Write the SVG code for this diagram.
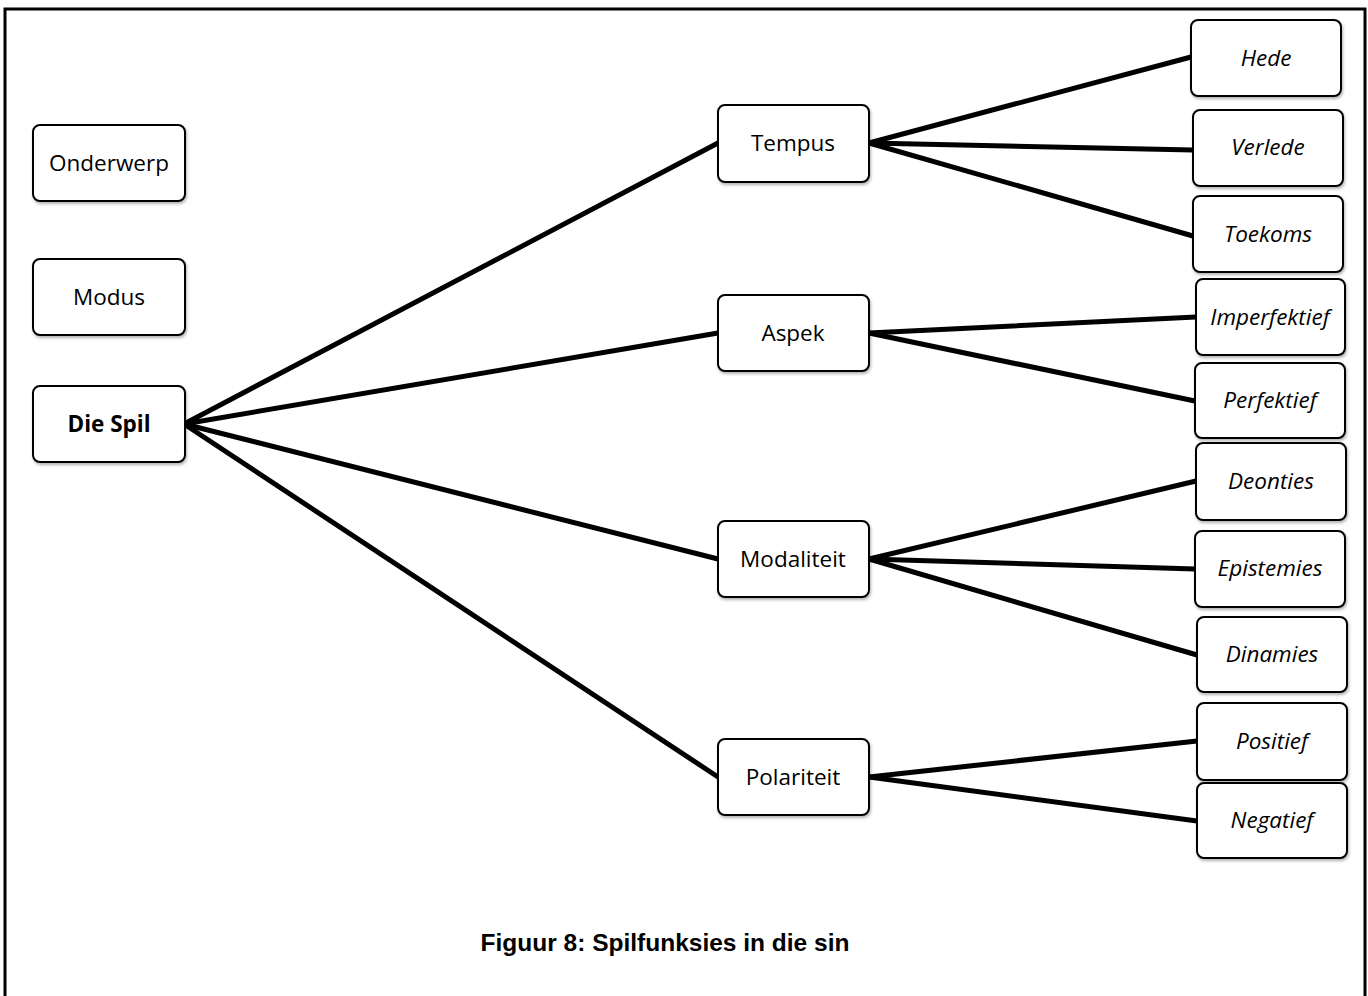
<svg xmlns="http://www.w3.org/2000/svg" width="1368" height="996" viewBox="0 0 1368 996">
<defs>
<filter id="sh" x="-10%" y="-10%" width="130%" height="140%">
<feDropShadow dx="1" dy="2" stdDeviation="1.5" flood-color="#000" flood-opacity="0.3"/>
</filter>
<style>
.box{fill:#fff;stroke:#000;stroke-width:2;filter:url(#sh)}
.t{font-family:"Open Sans",sans-serif;font-size:22.5px;fill:#000;text-anchor:middle}
.i{font-style:italic}
.b{font-weight:bold}
.c{stroke:#000;stroke-width:5;stroke-linecap:round;fill:none}
</style>
</defs>
<rect width="1368" height="996" fill="#fff"/>
<rect x="5" y="9" width="1360" height="1100" fill="none" stroke="#000" stroke-width="3"/>
<g id="connectors">
<line class="c" x1="184" y1="424" x2="718" y2="143"/>
<line class="c" x1="184" y1="424" x2="718" y2="333"/>
<line class="c" x1="184" y1="424" x2="718" y2="559"/>
<line class="c" x1="184" y1="424" x2="718" y2="777"/>
<line class="c" x1="869" y1="143" x2="1191" y2="57"/>
<line class="c" x1="869" y1="143" x2="1193" y2="150"/>
<line class="c" x1="869" y1="143" x2="1193" y2="236"/>
<line class="c" x1="869" y1="333" x2="1196" y2="317"/>
<line class="c" x1="869" y1="333" x2="1195" y2="401"/>
<line class="c" x1="869" y1="559" x2="1196" y2="481"/>
<line class="c" x1="869" y1="559" x2="1195" y2="569"/>
<line class="c" x1="869" y1="559" x2="1197" y2="655"/>
<line class="c" x1="869" y1="777" x2="1197" y2="741"/>
<line class="c" x1="869" y1="777" x2="1197" y2="821"/>
</g>
<g id="onderwerp"><rect class="box" x="33" y="125" width="152" height="76" rx="7"/><text class="t" x="109" y="171">Onderwerp</text></g>
<g id="modus"><rect class="box" x="33" y="259" width="152" height="76" rx="7"/><text class="t" x="109" y="305">Modus</text></g>
<g id="diespil"><rect class="box" x="33" y="386" width="152" height="76" rx="7"/><text class="t b" x="109" y="432">Die Spil</text></g>
<g id="tempus"><rect class="box" x="718" y="105" width="151" height="77" rx="7"/><text class="t" x="793" y="151">Tempus</text></g>
<g id="aspek"><rect class="box" x="718" y="295" width="151" height="76" rx="7"/><text class="t" x="793" y="341">Aspek</text></g>
<g id="modaliteit"><rect class="box" x="718" y="521" width="151" height="76" rx="7"/><text class="t" x="793" y="567">Modaliteit</text></g>
<g id="polariteit"><rect class="box" x="718" y="739" width="151" height="76" rx="7"/><text class="t" x="793" y="785">Polariteit</text></g>
<g id="hede"><rect class="box" x="1191" y="20" width="150" height="76" rx="7"/><text class="t i" x="1266" y="66">Hede</text></g>
<g id="verlede"><rect class="box" x="1193" y="110" width="150" height="76" rx="7"/><text class="t i" x="1268" y="155">Verlede</text></g>
<g id="toekoms"><rect class="box" x="1193" y="196" width="150" height="76" rx="7"/><text class="t i" x="1268" y="242">Toekoms</text></g>
<g id="imperfektief"><rect class="box" x="1196" y="279" width="149" height="76" rx="7"/><text class="t i" x="1270" y="325">Imperfektief</text></g>
<g id="perfektief"><rect class="box" x="1195" y="363" width="150" height="75" rx="7"/><text class="t i" x="1270" y="408">Perfektief</text></g>
<g id="deonties"><rect class="box" x="1196" y="443" width="150" height="77" rx="7"/><text class="t i" x="1271" y="489">Deonties</text></g>
<g id="epistemies"><rect class="box" x="1195" y="531" width="150" height="76" rx="7"/><text class="t i" x="1270" y="576">Epistemies</text></g>
<g id="dinamies"><rect class="box" x="1197" y="617" width="150" height="75" rx="7"/><text class="t i" x="1272" y="662">Dinamies</text></g>
<g id="positief"><rect class="box" x="1197" y="703" width="150" height="77" rx="7"/><text class="t i" x="1272" y="749">Positief</text></g>
<g id="negatief"><rect class="box" x="1197" y="783" width="150" height="75" rx="7"/><text class="t i" x="1272" y="828">Negatief</text></g>
<text x="665" y="951" font-family="Liberation Sans, Arial, sans-serif" font-size="24.5" font-weight="bold" text-anchor="middle" fill="#000">Figuur 8: Spilfunksies in die sin</text>
</svg>
